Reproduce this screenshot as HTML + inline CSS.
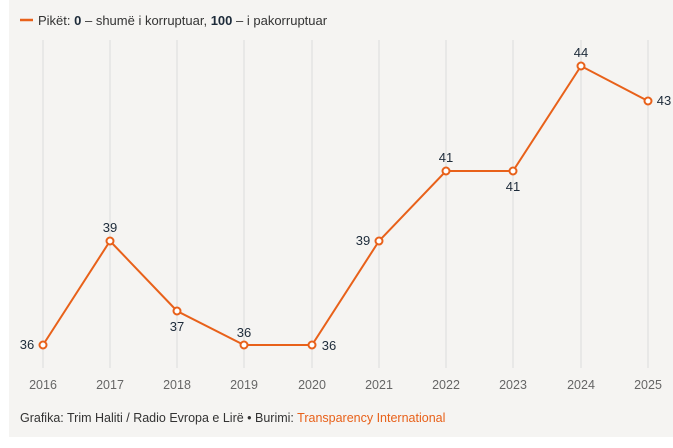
<!DOCTYPE html><html><head><style>body{margin:0;background:#fff}</style></head><body>
<svg width="673" height="443" xmlns="http://www.w3.org/2000/svg" font-family="Liberation Sans, sans-serif">
<rect x="9" y="0" width="664" height="437" fill="#f5f4f2"/>
<line x1="20" y1="20" x2="33" y2="20" stroke="#e8611a" stroke-width="2.5"/>
<text x="38" y="25" font-size="13" fill="#333">Pikët: <tspan font-weight="bold" fill="#1d2b3a">0</tspan> – shumë i korruptuar, <tspan font-weight="bold" fill="#1d2b3a">100</tspan> – i pakorruptuar</text>
<g stroke="#dcdcdc" stroke-width="1">
<line x1="43" y1="40" x2="43" y2="368"/><line x1="110" y1="40" x2="110" y2="368"/><line x1="177" y1="40" x2="177" y2="368"/><line x1="244" y1="40" x2="244" y2="368"/><line x1="312" y1="40" x2="312" y2="368"/><line x1="379" y1="40" x2="379" y2="368"/><line x1="446" y1="40" x2="446" y2="368"/><line x1="513" y1="40" x2="513" y2="368"/><line x1="581" y1="40" x2="581" y2="368"/><line x1="648" y1="40" x2="648" y2="368"/>
</g>
<g font-size="12.5" fill="#666" text-anchor="middle">
<text x="43" y="389">2016</text><text x="110" y="389">2017</text><text x="177" y="389">2018</text><text x="244" y="389">2019</text><text x="312" y="389">2020</text><text x="379" y="389">2021</text><text x="446" y="389">2022</text><text x="513" y="389">2023</text><text x="581" y="389">2024</text><text x="648" y="389">2025</text>
</g>
<polyline fill="none" stroke="#e8611a" stroke-width="2" points="43,345 110,241 177,311 244,345 312,345 379,241 446,171 513,171 581,66 648,101"/>
<g fill="#fff" stroke="#e8611a" stroke-width="2">
<circle cx="43" cy="345" r="3.5"/><circle cx="110" cy="241" r="3.5"/><circle cx="177" cy="311" r="3.5"/><circle cx="244" cy="345" r="3.5"/><circle cx="312" cy="345" r="3.5"/><circle cx="379" cy="241" r="3.5"/><circle cx="446" cy="171" r="3.5"/><circle cx="513" cy="171" r="3.5"/><circle cx="581" cy="66" r="3.5"/><circle cx="648" cy="101" r="3.5"/>
</g>
<g font-size="13" fill="#1d2b3a" text-anchor="middle">
<text x="27" y="349">36</text><text x="110" y="232">39</text><text x="177" y="331">37</text><text x="244" y="337">36</text><text x="329" y="350">36</text><text x="363" y="245">39</text><text x="446" y="162">41</text><text x="513" y="191">41</text><text x="581" y="57">44</text><text x="664" y="105">43</text>
</g>
<text x="20" y="422" font-size="12.5" fill="#333">Grafika: Trim Haliti / Radio Evropa e Lirë • Burimi: <tspan fill="#e8611a">Transparency International</tspan></text>
</svg></body></html>
